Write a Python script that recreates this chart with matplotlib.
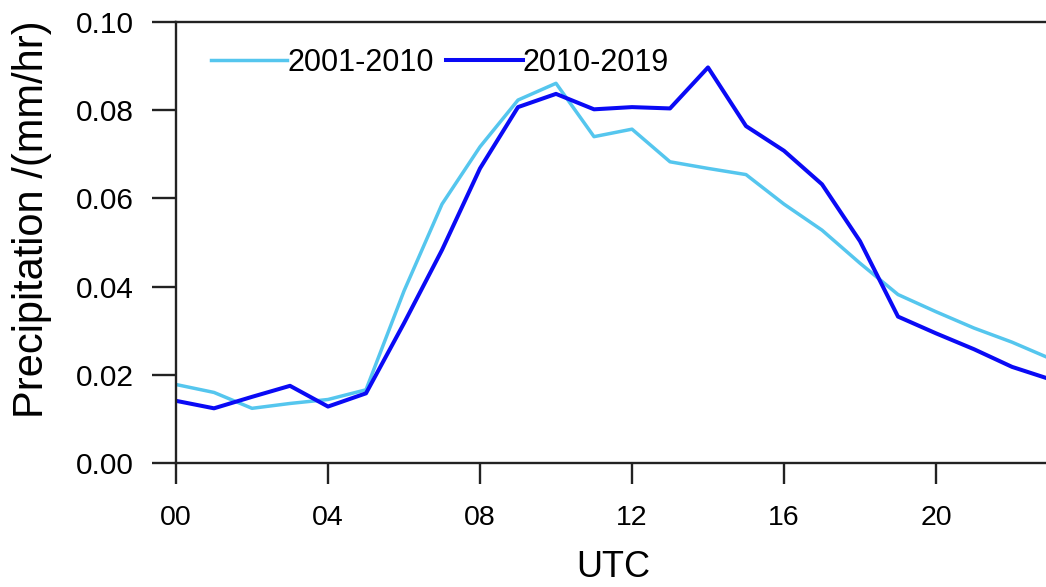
import matplotlib
matplotlib.use("Agg")
from matplotlib import pyplot as plt

plt.rcParams['font.family'] = ['Liberation Sans', 'DejaVu Sans']

# horas UTC y precipitacion media (mm/hr)
horas = list(range(24))
etiquetas_x = ["00", "04", "08", "12", "16", "20"]
p_2001_2010 = [0.0178, 0.0160, 0.0124, 0.0135, 0.0144, 0.0166, 0.0390, 0.0587,
               0.0717, 0.0823, 0.0861, 0.0740, 0.0757, 0.0683, 0.0668, 0.0654,
               0.0587, 0.0528, 0.0453, 0.0382, 0.0343, 0.0306, 0.0274, 0.0237]
p_2010_2019 = [0.0141, 0.0124, 0.0150, 0.0175, 0.0128, 0.0158, 0.0317, 0.0483,
               0.0668, 0.0807, 0.0837, 0.0802, 0.0807, 0.0804, 0.0897, 0.0764,
               0.0708, 0.0632, 0.0503, 0.0332, 0.0294, 0.0258, 0.0218, 0.0190]

fig = plt.figure(figsize=(10.46, 5.87), dpi=100)
ax = fig.add_axes([176/1046, 1 - 463/587, (1050 - 176)/1046, (463 - 22)/587])

l1, = ax.plot(horas, p_2001_2010, color='#55c6ee', linewidth=2.5, label='2001-2010')
l2, = ax.plot(horas, p_2010_2019, color='#0a0af5', linewidth=2.9, label='2010-2019')

ax.set_xlim(0, 23)
ax.set_ylim(0, 0.10)
ax.set_xticks(range(0, 24, 4), labels=etiquetas_x)
ax.set_yticks([0, 0.02, 0.04, 0.06, 0.08, 0.10],
              labels=["0.00", "0.02", "0.04", "0.06", "0.08", "0.10"])

for s in ax.spines.values():
    s.set_linewidth(1.7)
    s.set_color('#222222')

ax.tick_params(axis='y', direction='out', length=17.5, width=1.7, color='#222222',
               labelsize=21.5, pad=13)
ax.tick_params(axis='x', direction='out', length=15, width=1.7, color='#222222',
               labelsize=20.5, pad=15)
ax.tick_params(top=False, right=False)

ax.set_xlabel("UTC", fontsize=26, labelpad=14)
ax.set_ylabel("Precipitation /(mm/hr)", fontsize=30)
# la etiqueta Y va algo por encima del centro del eje
ax.yaxis.set_label_coords(-0.142, 0.553)

ax.legend(handles=[l1, l2], loc='center left', frameon=False, ncol=2,
          bbox_to_anchor=(211/1046, 1 - 63/587), bbox_transform=fig.transFigure,
          fontsize=22, handlelength=2.5, handletextpad=0.0, columnspacing=0.4,
          borderpad=0, borderaxespad=0)

fig.savefig("out.png", dpi=100)
